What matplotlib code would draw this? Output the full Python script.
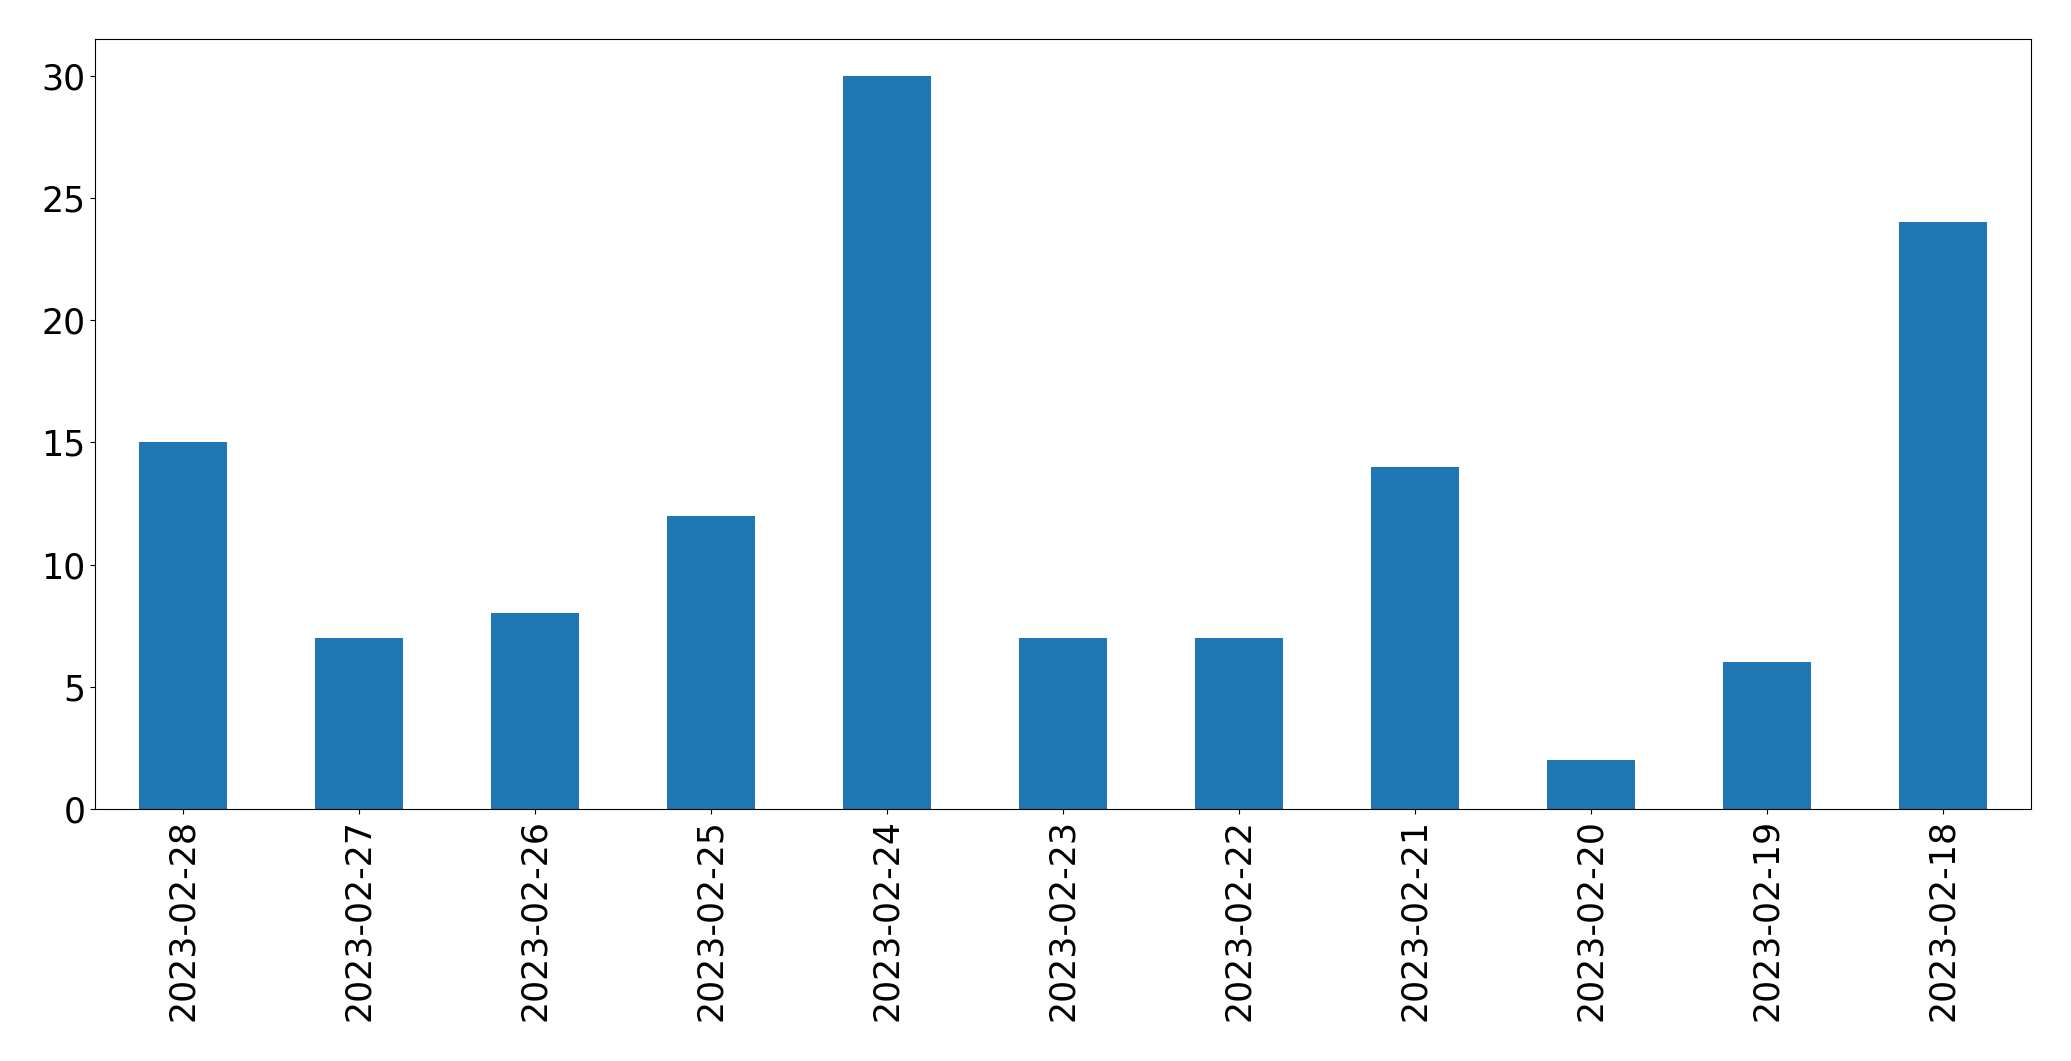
import matplotlib
matplotlib.use("Agg")
import matplotlib.pyplot as plt
import pandas as pd

dates = ["2023-02-28", "2023-02-27", "2023-02-26", "2023-02-25", "2023-02-24",
         "2023-02-23", "2023-02-22", "2023-02-21", "2023-02-20", "2023-02-19",
         "2023-02-18"]
counts = [15, 7, 8, 12, 30, 7, 7, 14, 2, 6, 24]

fig = plt.figure(figsize=(20.71, 10.61), dpi=100)
ax = fig.add_axes([95 / 2071, 1 - 809 / 1061, (2031 - 95) / 2071, (809 - 39) / 1061])
s = pd.Series(counts, index=dates)
s.plot.bar(ax=ax, color="#1f77b4", width=0.5)
ax.tick_params(axis="both", labelsize=25)
plt.setp(ax.get_xticklabels(), rotation=90)
fig.savefig("out.png", dpi=100)
